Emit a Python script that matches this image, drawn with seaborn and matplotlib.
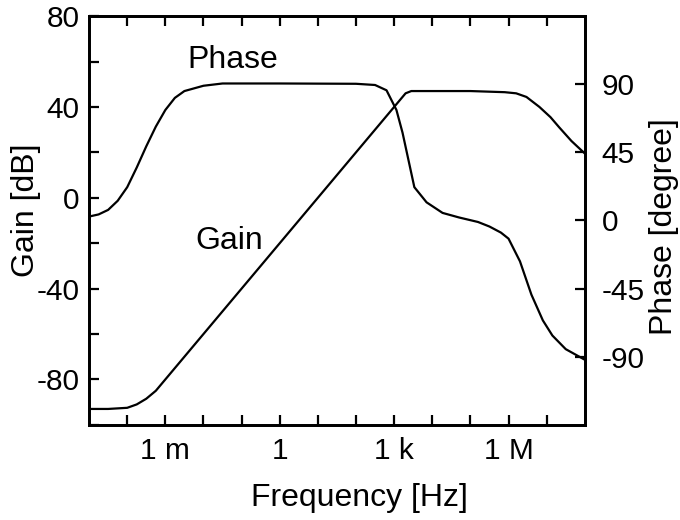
#!/usr/bin/env python3
"""
Bode plot: gain and phase vs frequency
"""

import numpy as np
import seaborn as sns
import matplotlib.pyplot as plt
from matplotlib.ticker import FixedLocator, FixedFormatter, NullFormatter

# log10 of frequency [Hz] and gain [dB]
gain_logf = [-5, -4.5, -4.0, -3.75, -3.5, -3.25, -3.0, -2.0, 0, 2.0, 3.0, 3.3, 3.45,
             4.0, 5.0, 5.9, 6.2, 6.47, 6.81, 7.1, 7.33, 7.65, 8.0]
gain_db = [-93, -93, -92.5, -91, -88.5, -85, -80, -60, -20, 20, 40, 46, 47,
           47, 47, 46.5, 46, 44.4, 40, 35.5, 31, 25, 19.5]

# log10 of frequency [Hz] and phase [degree]
phase_logf = [-5, -4.75, -4.5, -4.25, -4.0, -3.75, -3.5, -3.25, -3.0, -2.75, -2.5, -2.0,
              -1.5, 0, 2.0, 2.5, 2.8, 3.06, 3.22, 3.53, 3.85, 4.27, 4.7, 5.2, 5.5,
              5.8, 6.0, 6.3, 6.6, 6.9, 7.15, 7.5, 8.0]
phase_deg = [2.6, 4, 7, 13, 22, 35, 49, 62, 73, 81, 85.5, 89,
             90.5, 90.5, 90.3, 89.5, 86, 73, 58, 22, 12, 5, 2, -1, -4,
             -8, -12, -27, -49, -66, -76, -85, -92]

x_ticks = [1e-3, 1, 1e3, 1e6]
x_tick_labels = ['1 m', '1', '1 k', '1 M']
gain_ticks = [-80, -40, 0, 40, 80]
phase_ticks = [-90, -45, 0, 45, 90]

sns.set_style('ticks', {'axes.edgecolor': 'black', 'text.color': 'black',
                        'xtick.color': 'black', 'ytick.color': 'black',
                        'axes.labelcolor': 'black'})
plt.rcParams['font.family'] = ['Liberation Sans', 'DejaVu Sans']
plt.rcParams['axes.unicode_minus'] = False

fig = plt.figure(figsize=(6.8, 5.2), dpi=100)
ax = fig.add_axes([0.131, 0.183, 0.729, 0.786])
ax2 = ax.twinx()

sns.lineplot(x=10 ** np.array(gain_logf), y=gain_db, ax=ax, color='black', lw=1.6)
sns.lineplot(x=10 ** np.array(phase_logf), y=phase_deg, ax=ax2, color='black', lw=1.6)

ax.set_xscale('log')
ax.set_xlim(1e-5, 1e8)
ax.set_ylim(-100, 80)
ax2.set_ylim(-135, 135)

ax.xaxis.set_major_locator(FixedLocator(x_ticks))
ax.xaxis.set_major_formatter(FixedFormatter(x_tick_labels))
ax.xaxis.set_minor_locator(FixedLocator([10.0 ** k for k in range(-4, 8)]))
ax.xaxis.set_minor_formatter(NullFormatter())
ax.yaxis.set_major_locator(FixedLocator(gain_ticks))
ax.yaxis.set_minor_locator(FixedLocator(list(range(-100, 81, 20))))
ax2.yaxis.set_major_locator(FixedLocator(phase_ticks))
ax2.yaxis.set_minor_locator(FixedLocator([]))

ax.tick_params(which='both', direction='in', length=7, width=1.6,
               top=True, right=False, labelsize=21.5)
ax.tick_params(axis='x', pad=9)
ax.tick_params(axis='y', pad=7)
ax2.tick_params(which='both', direction='in', length=7, width=1.6,
                labelsize=21.5, pad=12)

for a in (ax, ax2):
    for s in a.spines.values():
        s.set_linewidth(2.0)
        s.set_color('black')
        s.set_visible(True)

ax.set_xlabel('Frequency [Hz]', fontsize=23, va='center')
ax.xaxis.set_label_coords(0.546, -0.178)
ax.set_ylabel('Gain [dB]', fontsize=23, va='center')
ax.yaxis.set_label_coords(-0.127, 0.526)
ax2.set_ylabel('Phase [degree]', fontsize=23, va='center', rotation=90)
ax2.yaxis.set_label_coords(1.159, 0.484)

ax.text(0.290, 0.873, 'Phase', transform=ax.transAxes, ha='center', va='baseline', fontsize=23)
ax.text(0.282, 0.430, 'Gain', transform=ax.transAxes, ha='center', va='baseline', fontsize=23)

fig.savefig('out.png', dpi=100, facecolor='white')
